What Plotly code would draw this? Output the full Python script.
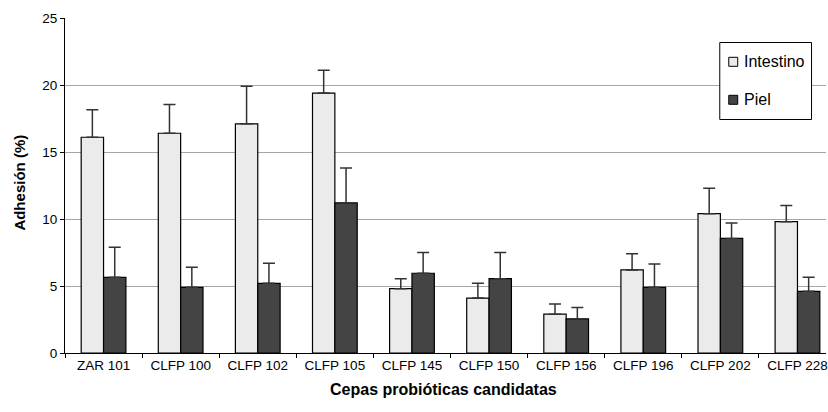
import plotly.graph_objects as go

categories = ["ZAR 101", "CLFP 100", "CLFP 102", "CLFP 105", "CLFP 145",
              "CLFP 150", "CLFP 156", "CLFP 196", "CLFP 202", "CLFP 228"]
intestino = [16.1, 16.4, 17.1, 19.4, 4.8, 4.1, 2.9, 6.2, 10.4, 9.8]
intestino_err = [2.05, 2.15, 2.8, 1.7, 0.75, 1.1, 0.75, 1.2, 1.9, 1.2]
piel = [5.65, 4.9, 5.2, 11.2, 5.95, 5.55, 2.55, 4.9, 8.55, 4.6]
piel_err = [2.25, 1.5, 1.5, 2.6, 1.55, 1.95, 0.85, 1.75, 1.15, 1.05]
y_ticks = [0, 5, 10, 15, 20, 25]
series_names = ["Intestino", "Piel"]
series_colors = ["#EBEBEB", "#444444"]

FONT = "Liberation Sans, Arial, sans-serif"

# figure geometry (pixels)
W, H = 828, 412
L, R, T, B = 65, 0, 18, 59
PW, PH = W - L - R, H - T - B


def px_x(p):
    return (p - L) / PW


def px_y(p):
    return (H - B - p) / PH


fig = go.Figure()
for name, vals, errs, col in [(series_names[0], intestino, intestino_err, series_colors[0]),
                              (series_names[1], piel, piel_err, series_colors[1])]:
    fig.add_trace(go.Bar(
        x=categories, y=vals, name=name,
        marker=dict(color=col, line=dict(color="#000000", width=1.2)),
        error_y=dict(type="data", array=errs, arrayminus=[0] * len(errs),
                     symmetric=False, color="#333333", thickness=1.5, width=6),
        showlegend=False,
    ))

# custom legend box
shapes = [dict(type="rect", xref="paper", yref="paper",
               x0=px_x(721.5), x1=px_x(813.5), y0=px_y(119.5), y1=px_y(42.5),
               fillcolor="white", line=dict(color="#000000", width=1), layer="above")]
annotations = []
for i, (name, col) in enumerate(zip(series_names, series_colors)):
    cy = 61.8 + i * 38
    shapes.append(dict(type="rect", xref="paper", yref="paper",
                       x0=px_x(730.5), x1=px_x(739.5), y0=px_y(cy + 4.5), y1=px_y(cy - 4.5),
                       fillcolor=col, line=dict(color="#000000", width=1), layer="above"))
    annotations.append(dict(text=name, xref="paper", yref="paper",
                            x=px_x(744), y=px_y(cy), xanchor="left", yanchor="middle",
                            showarrow=False,
                            font=dict(family=FONT, size=16, color="#000000")))

annotations.append(dict(text="<b>Cepas probióticas candidatas</b>", xref="paper", yref="paper",
                        x=px_x(444), y=px_y(389), xanchor="center", yanchor="middle",
                        showarrow=False, font=dict(family=FONT, size=16, color="#000000")))
annotations.append(dict(text="<b>Adhesión (%)</b>", xref="paper", yref="paper",
                        x=px_x(19), y=px_y(182.5), xanchor="center", yanchor="middle",
                        textangle=-90, showarrow=False,
                        font=dict(family=FONT, size=15, color="#000000")))

fig.update_layout(
    width=W, height=H,
    margin=dict(l=L, r=R, t=T, b=B),
    paper_bgcolor="white", plot_bgcolor="white",
    barmode="group", bargap=0.42, bargroupgap=0,
    font=dict(family=FONT, size=13.5, color="#000000"),
    showlegend=False,
    shapes=shapes,
    annotations=annotations,
    xaxis=dict(
        range=[-0.5, 9.37], showgrid=False,
        showline=True, linecolor="#000000", linewidth=1,
        ticks="outside", tickson="boundaries", ticklen=4, tickcolor="#000000",
        tickfont=dict(family=FONT, size=13.5, color="#000000"),
    ),
    yaxis=dict(
        range=[0, 25], tickvals=y_ticks,
        showgrid=True, gridcolor="#A6A6A6", gridwidth=1,
        showline=True, linecolor="#000000", linewidth=1,
        ticks="outside", ticklen=4, tickcolor="#000000",
        tickfont=dict(family=FONT, size=13.5, color="#000000"),
        zeroline=False,
    ),
)

fig.write_html("out.html")
